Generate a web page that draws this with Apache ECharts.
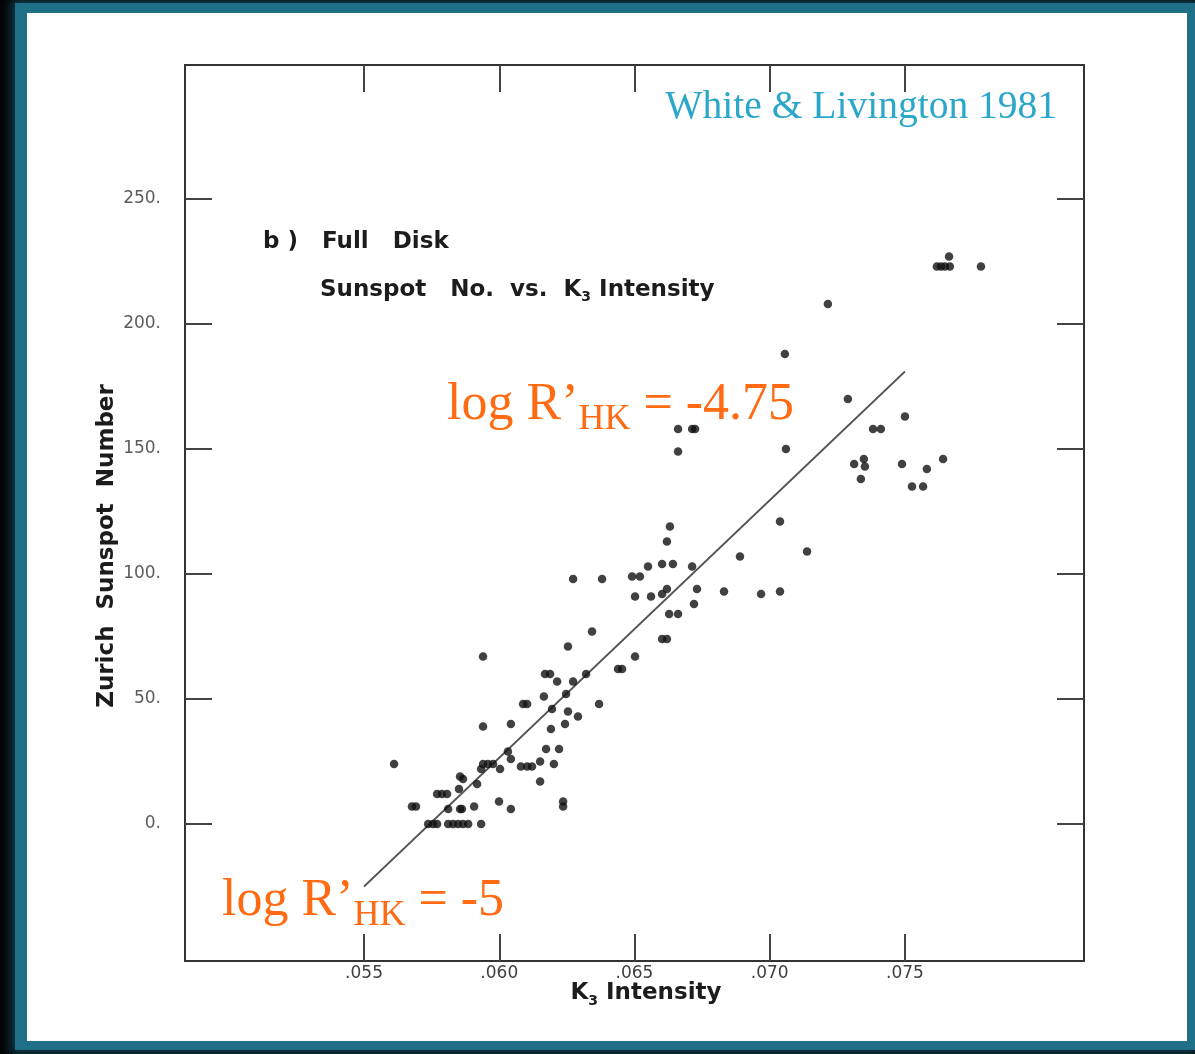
<!DOCTYPE html>
<html>
<head>
<meta charset="utf-8">
<script src="https://cdn.jsdelivr.net/npm/echarts@6/dist/echarts.min.js"></script>
<style>
  html, body { margin: 0; padding: 0; width: 1195px; height: 1054px; overflow: hidden; background: #040404; }
  #frame { position: absolute; left: 15px; top: 3px; width: 1180px; height: 1047px; background: #1e6f87;
           box-shadow: 0 0 10px 4px rgba(30, 111, 135, 0.55); }
  #panel { position: absolute; left: 27px; top: 13px; width: 1160px; height: 1028px; background: #ffffff; }
  #chart { position: absolute; left: 0; top: 0; width: 1195px; height: 1054px; }
</style>
</head>
<body>
<div id="frame"></div>
<div id="panel"></div>
<div id="chart"></div>
<script>
// K3 intensity (full disk) and the matching Zurich sunspot number for each observation
const k3Intensity = [
  0.07663, 0.07618, 0.07633, 0.07648, 0.07666, 0.07781, 0.07215, 0.07056, 0.07289, 0.07500,
  0.07382, 0.07411, 0.06661, 0.06713, 0.06724, 0.06661, 0.07060, 0.07312, 0.07348, 0.07352,
  0.07337, 0.07489, 0.07581, 0.07641, 0.07526, 0.07567, 0.07038, 0.06631, 0.06620, 0.07138,
  0.06890, 0.06550, 0.06602, 0.06642, 0.06713, 0.06491, 0.06520, 0.06380, 0.06273, 0.06502,
  0.06561, 0.06602, 0.06620, 0.06731, 0.06831, 0.06968, 0.07038, 0.06720, 0.06628, 0.06661,
  0.06343, 0.06602, 0.06620, 0.06502, 0.06254, 0.05940, 0.06169, 0.06188, 0.06214, 0.06273,
  0.06321, 0.06439, 0.06454, 0.06165, 0.06247, 0.06088, 0.06103, 0.06195, 0.06254, 0.06291,
  0.06369, 0.05940, 0.06043, 0.06191, 0.06243, 0.06032, 0.06173, 0.06221, 0.05611, 0.05940,
  0.05958, 0.05977, 0.05933, 0.06003, 0.06043, 0.06080, 0.06103, 0.06121, 0.06151, 0.06202,
  0.06151, 0.05855, 0.05866, 0.05851, 0.05918, 0.05770, 0.05788, 0.05807, 0.05677, 0.05692,
  0.05811, 0.05855, 0.05862, 0.05907, 0.05999, 0.06043, 0.06236, 0.06236, 0.05737, 0.05755,
  0.05770, 0.05811, 0.05829, 0.05848, 0.05866, 0.05885, 0.05933
];
const sunspotNumber = [
  227, 223, 223, 223, 223, 223, 208, 188, 170, 163,
  158, 158, 158, 158, 158, 149, 150, 144, 146, 143,
  138, 144, 142, 146, 135, 135, 121, 119, 113, 109,
  107, 103, 104, 104, 103, 99, 99, 98, 98, 91,
  91, 92, 94, 94, 93, 92, 93, 88, 84, 84,
  77, 74, 74, 67, 71, 67, 60, 60, 57, 57,
  60, 62, 62, 51, 52, 48, 48, 46, 45, 43,
  48, 39, 40, 38, 40, 29, 30, 30, 24, 24,
  24, 24, 22, 22, 26, 23, 23, 23, 25, 24,
  17, 19, 18, 14, 16, 12, 12, 12, 7, 7,
  6, 6, 6, 7, 9, 6, 9, 7, 0, 0,
  0, 0, 0, 0, 0, 0, 0
];

// least-squares fit drawn through the cloud (end points)
const fitK3 = [0.0550, 0.0750];
const fitSunspot = [-25, 181];

// tick positions and axis extents
const xTicks = [0.055, 0.060, 0.065, 0.070, 0.075];
const yTicks = [0, 50, 100, 150, 200, 250];
const xRange = [0.04838, 0.08162];
const yRange = [-54.8, 303.6];

const points = k3Intensity.map((k, i) => [k, sunspotNumber[i]]);
const fitLine = fitK3.map((k, i) => [k, fitSunspot[i]]);

const axisColor = '#333333';
const tickStyle = { show: true, inside: true, length: 27, lineStyle: { color: '#444', width: 2 } };
const sans = 'DejaVu Sans';
const serif = 'Liberation Serif';
const orange = '#ff6a12';
const ink = '#1c1c1c';

// rich-text styles: main run and a lowered subscript run
function subStyles(font, size, subSize, drop, color, weight, subWeight, lh) {
  return {
    m: { fontFamily: font, fontSize: size, fontWeight: weight, fill: color, lineHeight: lh, verticalAlign: 'top' },
    s: { fontFamily: font, fontSize: subSize, fontWeight: subWeight, fill: color, lineHeight: lh,
         verticalAlign: 'top', padding: [drop, 0, 0, 0] }
  };
}

const chart = echarts.init(document.getElementById('chart'), null, { renderer: 'canvas' });

chart.setOption({
  backgroundColor: 'transparent',
  animation: false,
  grid: { left: 185, top: 65, width: 899, height: 896, containLabel: false },
  xAxis: [
    {
      type: 'value', position: 'bottom', min: xRange[0], max: xRange[1],
      axisLine: { show: true, onZero: false, lineStyle: { color: axisColor, width: 2 } },
      axisTick: Object.assign({ customValues: xTicks }, tickStyle),
      axisLabel: {
        customValues: xTicks, margin: 4, color: '#3e3e3e', fontFamily: sans, fontSize: 17,
        formatter: v => '.' + String(Math.round(v * 1000)).padStart(3, '0')
      },
      splitLine: { show: false }
    },
    {
      type: 'value', position: 'top', min: xRange[0], max: xRange[1],
      axisLine: { show: true, onZero: false, lineStyle: { color: axisColor, width: 2 } },
      axisTick: Object.assign({ customValues: xTicks }, tickStyle),
      axisLabel: { show: false },
      splitLine: { show: false }
    }
  ],
  yAxis: [
    {
      type: 'value', position: 'left', min: yRange[0], max: yRange[1],
      axisLine: { show: true, onZero: false, lineStyle: { color: axisColor, width: 2 } },
      axisTick: Object.assign({ customValues: yTicks }, tickStyle),
      axisLabel: {
        customValues: yTicks, margin: 24, color: '#5c5c5c', fontFamily: sans, fontSize: 17,
        formatter: v => v + '.'
      },
      splitLine: { show: false }
    },
    {
      type: 'value', position: 'right', min: yRange[0], max: yRange[1],
      axisLine: { show: true, onZero: false, lineStyle: { color: axisColor, width: 2 } },
      axisTick: Object.assign({ customValues: yTicks }, tickStyle),
      axisLabel: { show: false },
      splitLine: { show: false }
    }
  ],
  series: [
    {
      type: 'line', data: fitLine, xAxisIndex: 0, yAxisIndex: 0,
      showSymbol: false, symbol: 'none', silent: true,
      lineStyle: { color: '#555', width: 1.8 }, z: 2
    },
    {
      type: 'scatter', data: points, xAxisIndex: 0, yAxisIndex: 0,
      symbol: 'circle', symbolSize: 8.5,
      itemStyle: { color: '#111' }, z: 3
    }
  ],
  graphic: [
    // axis titles
    {
      type: 'text', x: 107, y: 546, rotation: Math.PI / 2,
      style: { text: 'Zurich  Sunspot  Number', fontFamily: sans, fontSize: 23, fontWeight: 'bold',
               fill: ink, align: 'center', verticalAlign: 'middle' }
    },
    {
      type: 'text', x: 646, y: 982,
      style: { text: '{m|K}{s|3}{m| Intensity}', align: 'center',
               rich: subStyles(sans, 23, 14, 12, ink, 'bold', 'bold', 30) }
    },
    // panel caption
    {
      type: 'text', left: 263, top: 231,
      style: { text: 'b )   Full   Disk', fontFamily: sans, fontSize: 23, fontWeight: 'bold', fill: ink }
    },
    {
      type: 'text', left: 320, top: 279,
      style: { text: '{m|Sunspot   No.  vs.  K}{s|3}{m| Intensity}',
               rich: subStyles(sans, 23, 14, 11, ink, 'bold', 'bold', 30) }
    },
    // source
    {
      type: 'text', right: 138, top: 88,
      style: { text: 'White & Livington 1981', fontFamily: serif, fontSize: 39.5, fill: '#2aa7c9' }
    },
    // activity levels along the fit
    {
      type: 'text', left: 447, top: 379,
      style: { text: '{m|log R’}{s|HK}{m| = -4.75}', rich: subStyles(serif, 52, 36, 23, orange, 'normal', 'normal', 60) }
    },
    {
      type: 'text', left: 222, top: 875,
      style: { text: '{m|log R’}{s|HK}{m| = -5}', rich: subStyles(serif, 52, 36, 23, orange, 'normal', 'normal', 60) }
    }
  ]
});
</script>
</body>
</html>
